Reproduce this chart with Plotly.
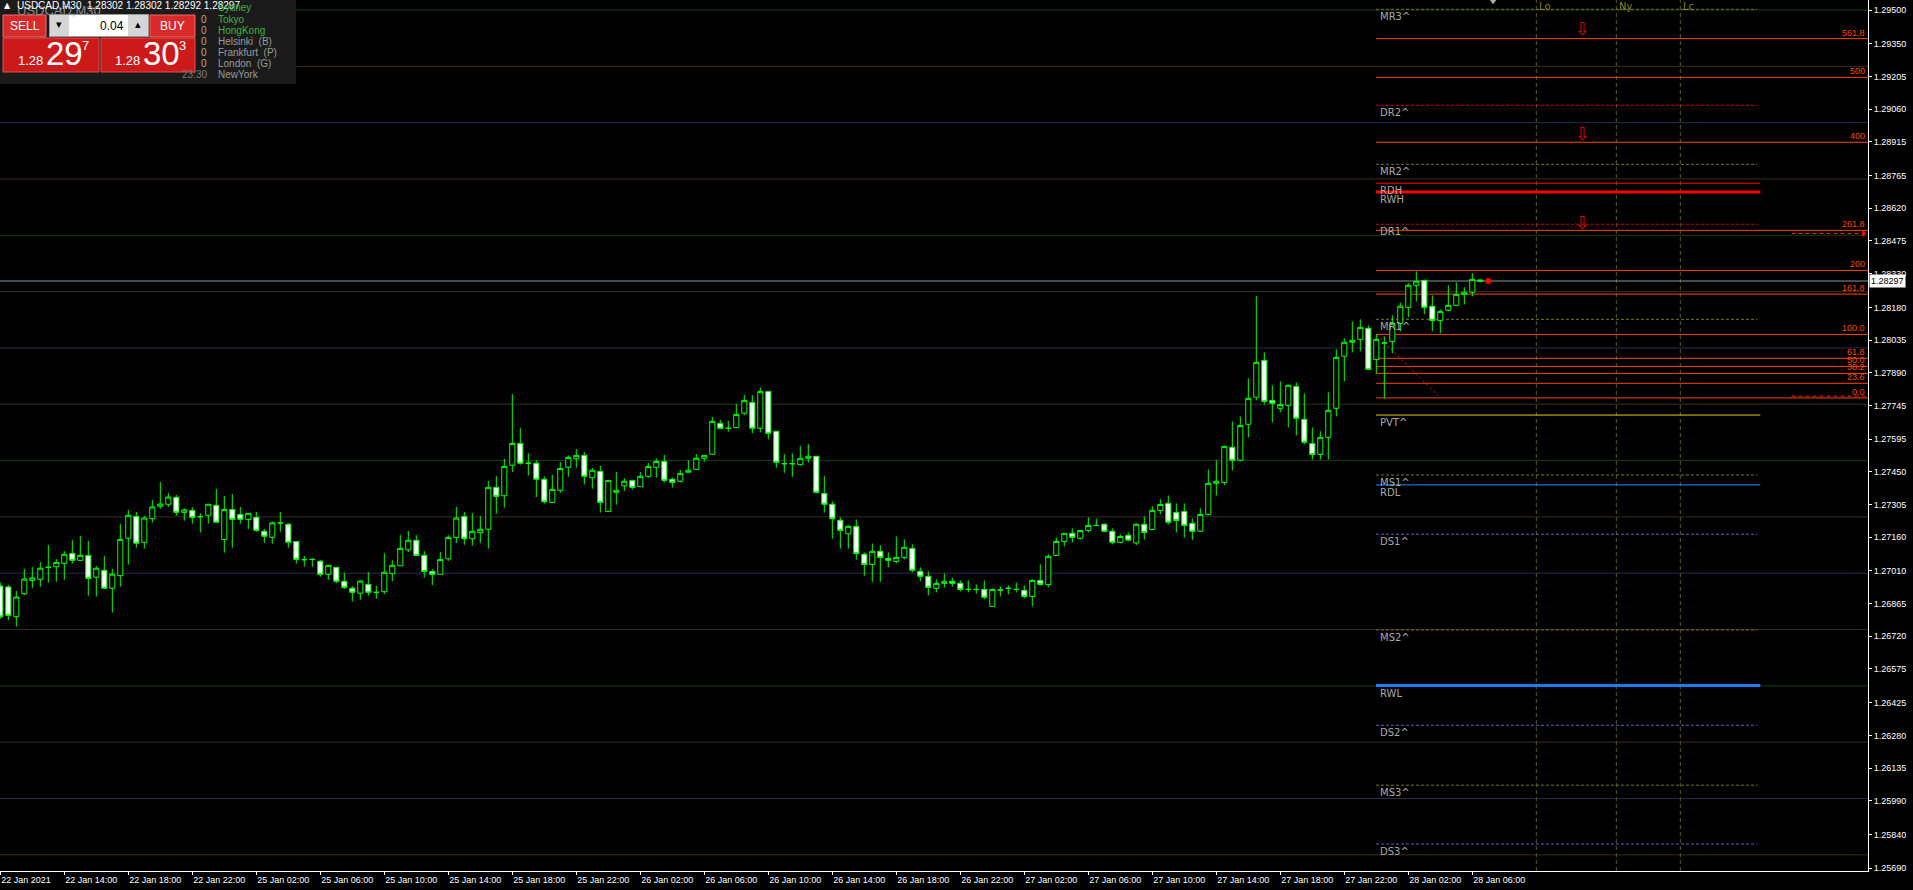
import plotly.graph_objects as go

# ---------------- data ----------------
opens = [1.26943, 1.26939, 1.26807, 1.26909, 1.26968, 1.26973, 1.27026, 1.27029, 1.27044, 1.27088,
         1.27057, 1.27079, 1.26982, 1.27013, 1.26933, 1.26989, 1.27155, 1.27252, 1.27137, 1.27242,
         1.27297, 1.27306, 1.27337, 1.27270, 1.27279, 1.27251, 1.27257, 1.27301, 1.27150, 1.27283,
         1.27261, 1.27239, 1.27248, 1.27186, 1.27159, 1.27223, 1.27217, 1.27141, 1.27060, 1.27061,
         1.27053, 1.26995, 1.27026, 1.26964, 1.26933, 1.26911, 1.26950, 1.26915, 1.26918, 1.26998,
         1.27033, 1.27104, 1.27146, 1.27079, 1.27008, 1.26995, 1.27064, 1.27159, 1.27252, 1.27153,
         1.27180, 1.27195, 1.27381, 1.27344, 1.27479, 1.27576, 1.27488, 1.27488, 1.27417, 1.27314,
         1.27368, 1.27470, 1.27508, 1.27523, 1.27424, 1.27452, 1.27274, 1.27359, 1.27388, 1.27412,
         1.27384, 1.27430, 1.27470, 1.27496, 1.27417, 1.27408, 1.27448, 1.27461, 1.27510, 1.27528,
         1.27665, 1.27643, 1.27647, 1.27710, 1.27758, 1.27643, 1.27807, 1.27630, 1.27486, 1.27486,
         1.27482, 1.27510, 1.27519, 1.27354, 1.27306, 1.27235, 1.27175, 1.27208, 1.27084, 1.27039,
         1.27097, 1.27066, 1.27052, 1.27070, 1.27110, 1.27008, 1.26986, 1.26933, 1.26955, 1.26964,
         1.26955, 1.26928, 1.26928, 1.26928, 1.26853, 1.26925, 1.26933, 1.26928, 1.26924, 1.26897,
         1.26968, 1.26950, 1.27079, 1.27141, 1.27177, 1.27155, 1.27190, 1.27212, 1.27217, 1.27186,
         1.27137, 1.27168, 1.27134, 1.27217, 1.27194, 1.27279, 1.27310, 1.27270, 1.27274, 1.27221,
         1.27186, 1.27261, 1.27399, 1.27403, 1.27559, 1.27501, 1.27661, 1.27781, 1.27945, 1.27767,
         1.27732, 1.27745, 1.27829, 1.27683, 1.27576, 1.27527, 1.27603, 1.27732, 1.27963, 1.28025,
         1.28038, 1.28087, 1.27949, 1.28022, 1.28029, 1.28109, 1.28180, 1.28278, 1.28300, 1.28185,
         1.28122, 1.28167, 1.28189, 1.28238, 1.28247, 1.28302]
highs = [1.26959, 1.26948, 1.26921, 1.27019, 1.27027, 1.27050, 1.27125, 1.27063, 1.27098, 1.27147,
         1.27165, 1.27143, 1.27032, 1.27076, 1.27019, 1.27218, 1.27281, 1.27272, 1.27254, 1.27325,
         1.27405, 1.27356, 1.27347, 1.27288, 1.27292, 1.27266, 1.27306, 1.27374, 1.27343, 1.27352,
         1.27294, 1.27266, 1.27272, 1.27196, 1.27230, 1.27272, 1.27223, 1.27141, 1.27076, 1.27067,
         1.27059, 1.27035, 1.27026, 1.27002, 1.26943, 1.26970, 1.27005, 1.26943, 1.27089, 1.27058,
         1.27169, 1.27187, 1.27169, 1.27098, 1.27018, 1.27094, 1.27169, 1.27294, 1.27272, 1.27267,
         1.27254, 1.27409, 1.27431, 1.27507, 1.27795, 1.27644, 1.27533, 1.27501, 1.27430, 1.27436,
         1.27494, 1.27523, 1.27551, 1.27538, 1.27467, 1.27476, 1.27412, 1.27449, 1.27422, 1.27415,
         1.27449, 1.27489, 1.27510, 1.27525, 1.27425, 1.27458, 1.27502, 1.27529, 1.27523, 1.27693,
         1.27680, 1.27676, 1.27751, 1.27791, 1.27791, 1.27825, 1.27807, 1.27630, 1.27528, 1.27532,
         1.27565, 1.27573, 1.27519, 1.27431, 1.27319, 1.27248, 1.27212, 1.27239, 1.27092, 1.27132,
         1.27124, 1.27092, 1.27163, 1.27150, 1.27128, 1.27026, 1.27008, 1.26973, 1.26999, 1.26981,
         1.26968, 1.26968, 1.26950, 1.26968, 1.26933, 1.26941, 1.26946, 1.26959, 1.26946, 1.26973,
         1.27039, 1.27084, 1.27159, 1.27177, 1.27199, 1.27190, 1.27248, 1.27243, 1.27221, 1.27199,
         1.27172, 1.27181, 1.27221, 1.27252, 1.27297, 1.27328, 1.27345, 1.27310, 1.27310, 1.27243,
         1.27288, 1.27461, 1.27501, 1.27567, 1.27674, 1.27696, 1.27865, 1.28230, 1.27980, 1.27834,
         1.27852, 1.27838, 1.27847, 1.27798, 1.27647, 1.27630, 1.27803, 1.27994, 1.28043, 1.28118,
         1.28127, 1.28100, 1.28060, 1.28051, 1.28145, 1.28202, 1.28287, 1.28340, 1.28304, 1.28233,
         1.28171, 1.28278, 1.28291, 1.28269, 1.28331, 1.28302]
lows = [1.26798, 1.26792, 1.26763, 1.26903, 1.26934, 1.26940, 1.26958, 1.26962, 1.26971, 1.27042,
        1.27057, 1.26900, 1.26896, 1.26933, 1.26825, 1.26940, 1.27038, 1.27113, 1.27109, 1.27224,
        1.27286, 1.27294, 1.27255, 1.27233, 1.27220, 1.27180, 1.27220, 1.27226, 1.27091, 1.27113,
        1.27220, 1.27196, 1.27184, 1.27135, 1.27131, 1.27184, 1.27113, 1.27042, 1.27029, 1.27029,
        1.26985, 1.26971, 1.26955, 1.26930, 1.26874, 1.26882, 1.26900, 1.26887, 1.26907, 1.26965,
        1.27033, 1.27094, 1.27079, 1.26980, 1.26947, 1.26995, 1.27055, 1.27134, 1.27126, 1.27122,
        1.27135, 1.27109, 1.27264, 1.27291, 1.27449, 1.27482, 1.27433, 1.27338, 1.27309, 1.27314,
        1.27357, 1.27428, 1.27468, 1.27394, 1.27375, 1.27269, 1.27274, 1.27304, 1.27366, 1.27371,
        1.27384, 1.27424, 1.27424, 1.27403, 1.27380, 1.27403, 1.27448, 1.27461, 1.27495, 1.27528,
        1.27639, 1.27628, 1.27643, 1.27701, 1.27621, 1.27625, 1.27594, 1.27468, 1.27446, 1.27428,
        1.27479, 1.27491, 1.27354, 1.27269, 1.27153, 1.27109, 1.27109, 1.27060, 1.26989, 1.26962,
        1.26962, 1.27026, 1.27044, 1.27061, 1.27004, 1.26964, 1.26902, 1.26915, 1.26936, 1.26940,
        1.26919, 1.26915, 1.26910, 1.26884, 1.26853, 1.26897, 1.26906, 1.26915, 1.26888, 1.26853,
        1.26946, 1.26937, 1.27079, 1.27119, 1.27137, 1.27150, 1.27181, 1.27208, 1.27181, 1.27128,
        1.27132, 1.27141, 1.27125, 1.27150, 1.27194, 1.27261, 1.27217, 1.27181, 1.27159, 1.27147,
        1.27186, 1.27257, 1.27345, 1.27390, 1.27456, 1.27496, 1.27603, 1.27767, 1.27749, 1.27670,
        1.27714, 1.27647, 1.27612, 1.27572, 1.27505, 1.27505, 1.27505, 1.27696, 1.27852, 1.27980,
        1.27985, 1.27905, 1.27887, 1.27776, 1.27976, 1.28074, 1.28136, 1.28207, 1.28149, 1.28074,
        1.28065, 1.28162, 1.28189, 1.28193, 1.28229, 1.28292]
closes = [1.26807, 1.26813, 1.26894, 1.26974, 1.26979, 1.27022, 1.27026, 1.27048, 1.27084, 1.27057,
          1.27079, 1.26977, 1.27022, 1.26933, 1.26996, 1.27150, 1.27257, 1.27133, 1.27245, 1.27294,
          1.27307, 1.27338, 1.27270, 1.27281, 1.27248, 1.27251, 1.27306, 1.27226, 1.27283, 1.27239,
          1.27239, 1.27266, 1.27190, 1.27164, 1.27223, 1.27223, 1.27137, 1.27061, 1.27060, 1.27061,
          1.26995, 1.27035, 1.26964, 1.26936, 1.26915, 1.26965, 1.26915, 1.26915, 1.27004, 1.27035,
          1.27110, 1.27146, 1.27079, 1.27007, 1.26995, 1.27061, 1.27159, 1.27245, 1.27153, 1.27186,
          1.27195, 1.27381, 1.27341, 1.27474, 1.27576, 1.27488, 1.27488, 1.27417, 1.27317, 1.27372,
          1.27465, 1.27514, 1.27523, 1.27430, 1.27457, 1.27314, 1.27412, 1.27368, 1.27408, 1.27381,
          1.27430, 1.27474, 1.27496, 1.27412, 1.27403, 1.27443, 1.27457, 1.27510, 1.27523, 1.27674,
          1.27643, 1.27643, 1.27705, 1.27767, 1.27643, 1.27807, 1.27621, 1.27492, 1.27486, 1.27486,
          1.27510, 1.27519, 1.27359, 1.27306, 1.27242, 1.27190, 1.27208, 1.27087, 1.27039, 1.27097,
          1.27070, 1.27057, 1.27070, 1.27115, 1.27013, 1.26986, 1.26937, 1.26955, 1.26964, 1.26955,
          1.26928, 1.26928, 1.26928, 1.26893, 1.26928, 1.26925, 1.26933, 1.26928, 1.26897, 1.26968,
          1.26950, 1.27075, 1.27141, 1.27177, 1.27159, 1.27190, 1.27212, 1.27212, 1.27186, 1.27137,
          1.27163, 1.27147, 1.27217, 1.27181, 1.27279, 1.27305, 1.27226, 1.27234, 1.27212, 1.27186,
          1.27261, 1.27399, 1.27408, 1.27563, 1.27501, 1.27656, 1.27776, 1.27936, 1.27763, 1.27754,
          1.27749, 1.27834, 1.27687, 1.27581, 1.27527, 1.27603, 1.27723, 1.27958, 1.28025, 1.28034,
          1.28091, 1.27905, 1.28038, 1.28022, 1.28109, 1.28185, 1.28278, 1.28296, 1.28180, 1.28122,
          1.28162, 1.28189, 1.28238, 1.28247, 1.28304, 1.28297]

time_labels = ["22 Jan 2021", "22 Jan 14:00", "22 Jan 18:00", "22 Jan 22:00", "25 Jan 02:00",
               "25 Jan 06:00", "25 Jan 10:00", "25 Jan 14:00", "25 Jan 18:00", "25 Jan 22:00",
               "26 Jan 02:00", "26 Jan 06:00", "26 Jan 10:00", "26 Jan 14:00", "26 Jan 18:00",
               "26 Jan 22:00", "27 Jan 02:00", "27 Jan 06:00", "27 Jan 10:00", "27 Jan 14:00",
               "27 Jan 18:00", "27 Jan 22:00", "28 Jan 02:00", "28 Jan 06:00"]
time_label_bars = [0, 8, 16, 24, 32, 40, 48, 56, 64, 72, 80, 88, 96, 104, 112, 120,
                   128, 136, 144, 152, 160, 168, 176, 184]

price_ticks = [1.29500, 1.29350, 1.29205, 1.29060, 1.28915, 1.28765, 1.28620, 1.28475, 1.28330,
               1.28180, 1.28035, 1.27890, 1.27745, 1.27595, 1.27450, 1.27305, 1.27160, 1.27010,
               1.26865, 1.26720, 1.26575, 1.26425, 1.26280, 1.26135, 1.25990, 1.25840, 1.25690]

quarter_levels = [1.2950, 1.2925, 1.2900, 1.2875, 1.2850, 1.2825, 1.2800, 1.2775,
                  1.2750, 1.2725, 1.2700, 1.2675, 1.2650, 1.2625, 1.2600, 1.2575]
quarter_kinds = ["g", "b", "u", "b", "g", "b", "u", "b", "g", "b", "u", "b", "g", "b", "u", "b"]

pivot_names = ["MR3^", "DR2^", "MR2^", "RDH", "RWH", "DR1^", "MR1^", "PVT^",
               "MS1^", "RDL", "DS1^", "MS2^", "RWL", "DS2^", "MS3^", "DS3^"]
pivot_values = [1.29503, 1.29077, 1.28815, 1.28731, 1.28692, 1.28549, 1.28127, 1.27702,
                1.27436, 1.27392, 1.27173, 1.26748, 1.26501, 1.26325, 1.26059, 1.25798]

fib_names = ["561.8", "500", "400", "261.8", "200", "161.8", "100.0", "61.8", "50.0", "38.2", "23.6", "0.0"]
fib_values = [1.29373, 1.29201, 1.28913, 1.28522, 1.28344, 1.28239, 1.28060, 1.27954,
              1.27918, 1.27887, 1.27843, 1.27778]

session_names = ["Lo", "Ny", "Lc"]
session_bars = [192, 202, 210]

signal_bar = 197.8
signal_prices = [1.29418, 1.28950, 1.28555]

fib_swing_bars = [172.05, 179.75]
fib_swing_prices = [1.28057, 1.27788]
target_prices = [1.28508, 1.27786]

last_price = 1.28297
title_text = "USDCAD,M30  1.28302 1.28302 1.28292 1.28297"

# ---------------- geometry / styling ----------------
W, H = 1913, 890
PLOT_W, PLOT_H = 1868, 871
X_RANGE = [-0.0375, 233.4625]
Y_RANGE = [1.2567809, 1.2954439]
LEVEL_X0 = 171.96
LEVEL_X1_DASH = 219.6
LEVEL_X1_SOLID = 220.0
TGT_X0 = 223.9

GREEN = "#00ff00"
FIB_COL = "#ff4500"
QCOL = {"g": "#10400f", "b": "#3a2d1d", "u": "#2b2a55"}
PIVOT_STYLE = {
    "MR": ("#7a7a14", "3px,2px", 1, LEVEL_X1_DASH),
    "MS": ("#7a7a14", "3px,2px", 1, LEVEL_X1_DASH),
    "DR": ("#d40000", "3px,2px", 1, LEVEL_X1_DASH),
    "DS": ("#6a5acd", "3px,2px", 1, LEVEL_X1_DASH),
    "RDH": ("#ff0000", "solid", 1, LEVEL_X1_SOLID),
    "RWH": ("#ff0000", "solid", 3, LEVEL_X1_SOLID),
    "PVT": ("#e2d200", "solid", 1, LEVEL_X1_SOLID),
    "RDL": ("#1e90ff", "solid", 1, LEVEL_X1_SOLID),
    "RWL": ("#1c7cf0", "solid", 3, LEVEL_X1_SOLID),
}


def style_for(name):
    for k in ("RDH", "RWH", "PVT", "RDL", "RWL"):
        if name.startswith(k):
            return PIVOT_STYLE[k]
    return PIVOT_STYLE.get(name[:2], PIVOT_STYLE["MR"])


def PX(x):
    return x / PLOT_W


def PY(y):
    return 1 - y / PLOT_H


shapes = []
annotations = []

# quarter levels across the chart
for lv, kd in zip(quarter_levels, quarter_kinds):
    shapes.append(dict(type="line", xref="paper", yref="y", x0=0, x1=1, y0=lv, y1=lv,
                       line=dict(color=QCOL[kd], width=1), layer="below"))

# session vertical lines
for nm, bx in zip(session_names, session_bars):
    shapes.append(dict(type="line", xref="x", yref="paper", x0=bx, x1=bx, y0=0, y1=1,
                       line=dict(color="#5e5e18", width=1, dash="4px,3px"), layer="below"))
    annotations.append(dict(xref="x", yref="paper", x=bx, y=1, xshift=1, yshift=1, text=nm,
                            showarrow=False, xanchor="left", yanchor="top",
                            font=dict(family="DejaVu Sans", size=10, color="#86861e")))

# current price line
shapes.append(dict(type="line", xref="paper", yref="y", x0=0, x1=1, y0=last_price, y1=last_price,
                   line=dict(color="#8795a6", width=1), layer="below"))

# fib levels
for nm, lv in zip(fib_names, fib_values):
    shapes.append(dict(type="line", xref="x", yref="y", x0=LEVEL_X0, x1=X_RANGE[1], y0=lv, y1=lv,
                       line=dict(color=FIB_COL, width=1), layer="below"))
    annotations.append(dict(xref="paper", yref="y", x=PX(1866.5), y=lv, text=nm, showarrow=False,
                            xanchor="right", yanchor="bottom", yshift=-1,
                            font=dict(family="Liberation Sans", size=9, color=FIB_COL)))

# pivot / range levels
for nm, lv in zip(pivot_names, pivot_values):
    col, dash, wd, x1 = style_for(nm)
    shapes.append(dict(type="line", xref="x", yref="y", x0=LEVEL_X0, x1=x1, y0=lv, y1=lv,
                       line=dict(color=col, width=wd, dash=dash), layer="below"))
    annotations.append(dict(xref="x", yref="y", x=LEVEL_X0, xshift=2, y=lv, text=nm, showarrow=False,
                            xanchor="left", yanchor="top", yshift=0,
                            font=dict(family="DejaVu Sans", size=10, color="#a9a9a9")))

# fib swing (dotted) and targets (dashed)
shapes.append(dict(type="line", xref="x", yref="y", x0=fib_swing_bars[0], x1=fib_swing_bars[1],
                   y0=fib_swing_prices[0], y1=fib_swing_prices[1],
                   line=dict(color="#ff1010", width=1, dash="2px,3px"), layer="below"))
for tp in target_prices:
    shapes.append(dict(type="line", xref="x", yref="y", x0=TGT_X0, x1=X_RANGE[1], y0=tp, y1=tp,
                       line=dict(color="#ff1a1a", width=1, dash="4px,3px"), layer="below"))

# signal arrows
for sp in signal_prices:
    annotations.append(dict(xref="x", yref="y", x=signal_bar, y=sp, text="⇩", showarrow=False,
                            xanchor="center", yanchor="middle",
                            font=dict(family="DejaVu Sans", size=18, color="#e00000")))

# current price label box on the axis
annotations.append(dict(xref="paper", yref="y", x=1, xshift=1, y=last_price, text=f"{last_price:.5f}",
                        showarrow=False, xanchor="left", yanchor="middle", bgcolor="#ffffff",
                        borderpad=1, font=dict(family="Liberation Sans", size=9, color="#000000")))

# ---------------- one-click trading panel (top-left) ----------------
def rect(x0, y0, x1, y1, fill, line=None, lw=0):
    shapes.append(dict(type="rect", xref="paper", yref="paper", x0=PX(x0), x1=PX(x1),
                       y0=PY(y1), y1=PY(y0), fillcolor=fill,
                       line=dict(color=line or fill, width=lw), layer="above"))


def text(x, y, s, size, color, anchor="left", family="Liberation Sans"):
    annotations.append(dict(xref="paper", yref="paper", x=PX(x), y=PY(y), text=s, showarrow=False,
                            xanchor=anchor, yanchor="middle",
                            font=dict(size=size, color=color, family=family)))


rect(0, 0, 296, 84, "#1b1b1b")
rect(3, 15, 46, 37, "#d92a2a", "#ee6a6a", 1)
rect(49, 14, 149, 37, "#9a9a9a")
rect(50, 15, 69, 36, "#d6d6d6")
rect(69, 15, 128, 36, "#ffffff")
rect(128, 15, 148, 36, "#d6d6d6")
rect(150, 15, 195, 37, "#d92a2a", "#ee6a6a", 1)
rect(3, 38, 99, 72, "#cc1a1a", "#e65050", 1)
rect(101, 38, 195, 72, "#cc1a1a", "#e65050", 1)

text(15, 10, "USDCAD,M30", 13, "#8a8a8a")
text(2, 6, "▲", 8, "#ffffff", family="DejaVu Sans")
text(15, 6, title_text, 10, "#ffffff")
text(24.5, 26, "SELL", 12, "#ffffff", "center")
text(172.5, 26, "BUY", 12, "#ffffff", "center")
text(59.5, 25, "▾", 11, "#000000", "center", family="DejaVu Sans")
text(138, 25, "▴", 11, "#000000", "center", family="DejaVu Sans")
text(126, 26, "0.04", 12, "#000000", "right")
text(16, 61, "1.28", 13, "#ffffff")
text(44, 53, "29", 33, "#ffffff")
text(80, 46, "7", 13, "#ffffff")
text(113, 61, "1.28", 13, "#ffffff")
text(141, 53, "30", 33, "#ffffff")
text(177, 46, "3", 13, "#ffffff")

list_names = ["Sydney", "Tokyo", "HongKong", "Helsinki  (B)", "Frankfurt  (P)", "London  (G)", "NewYork"]
list_cols = ["#3cb43c", "#3cb43c", "#3cb43c", "#9a9a9a", "#9a9a9a", "#9a9a9a", "#9a9a9a"]
list_y = [7.7, 19, 30.3, 41.3, 52.3, 63, 74]
for nm, cl, yy in zip(list_names, list_cols, list_y):
    text(216, yy, nm, 10, cl)
for yy in list_y[1:6]:
    text(199, yy, "0", 10, "#c8a078")
text(180, 74, "23:30", 10, "#7a7a7a")

# ---------------- figure ----------------
fig = go.Figure()
fig.add_trace(go.Candlestick(
    x=list(range(len(opens))), open=opens, high=highs, low=lows, close=closes,
    increasing=dict(line=dict(color=GREEN, width=1), fillcolor="#000000"),
    decreasing=dict(line=dict(color=GREEN, width=1), fillcolor="#ffffff"),
    whiskerwidth=0, hoverinfo="skip", showlegend=False))

fig.add_trace(go.Scatter(x=[len(opens)], y=[last_price], mode="markers",
                         marker=dict(color="#ff0000", size=6, symbol="circle"),
                         hoverinfo="skip", showlegend=False))
fig.add_trace(go.Scatter(x=[X_RANGE[1] - 0.55], y=[target_prices[0]], mode="markers",
                         marker=dict(color="#ff0000", size=6, symbol="triangle-right"),
                         hoverinfo="skip", showlegend=False))
fig.add_trace(go.Scatter(x=[len(opens) + 0.6], y=[Y_RANGE[1] - 0.00003], mode="markers",
                         marker=dict(color="#a8a8b8", size=7, symbol="triangle-down"),
                         hoverinfo="skip", showlegend=False))

fig.update_layout(
    width=W, height=H, autosize=False,
    margin=dict(l=0, r=W - PLOT_W, t=0, b=H - PLOT_H, pad=0),
    paper_bgcolor="#000000", plot_bgcolor="#000000",
    boxgap=0.36, boxgroupgap=0,
    shapes=shapes, annotations=annotations,
    hovermode=False, showlegend=False,
    xaxis=dict(range=X_RANGE, showgrid=False, zeroline=False, showline=True, linecolor="#ffffff",
               linewidth=1, ticks="outside", ticklen=3, tickcolor="#ffffff", tickwidth=1,
               tickvals=time_label_bars, ticktext=time_labels, tickangle=0,
               ticklabelposition="outside right",
               tickfont=dict(family="Liberation Sans", size=9, color="#ffffff"),
               rangeslider=dict(visible=False), fixedrange=True),
    yaxis=dict(range=Y_RANGE, side="right", showgrid=False, zeroline=False, showline=True,
               linecolor="#ffffff", linewidth=1, ticks="outside", ticklen=3, tickcolor="#ffffff",
               tickvals=price_ticks, ticktext=[f"{v:.5f}" for v in price_ticks],
               tickfont=dict(family="Liberation Sans", size=9, color="#ffffff"), fixedrange=True),
)

fig.write_html("out.html", config={"displayModeBar": False},
               post_script="document.body.style.margin='0';document.body.style.overflow='hidden';")
